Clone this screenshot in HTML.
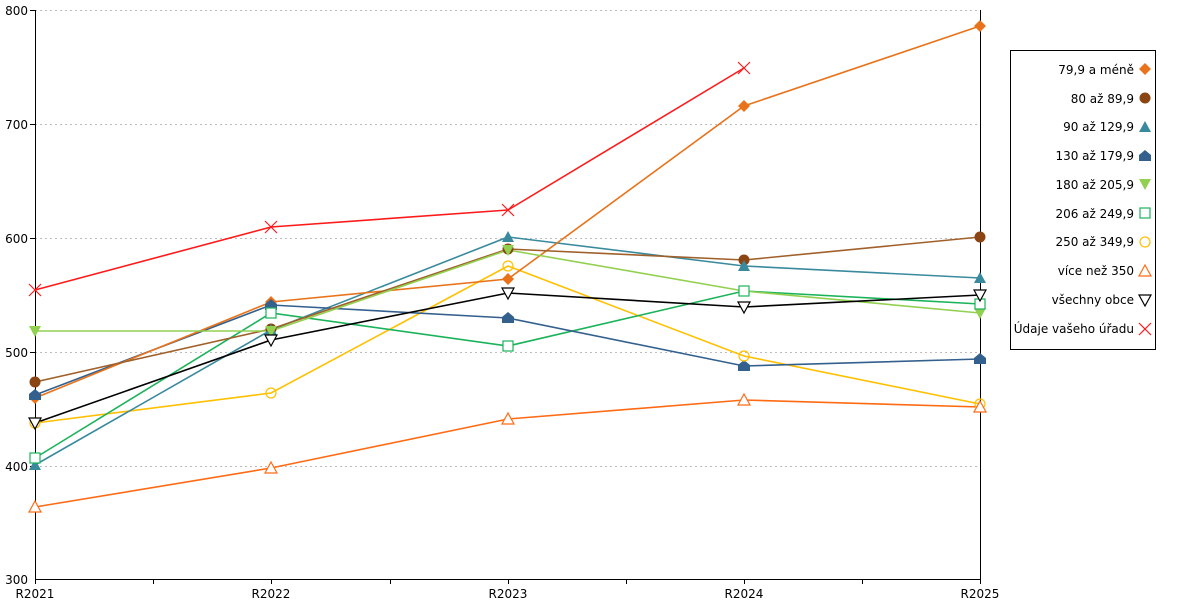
<!DOCTYPE html>
<html><head><meta charset="utf-8"><style>body{margin:0;background:#fff}svg{display:block}text{font-family:"DejaVu Sans","Liberation Sans",sans-serif;font-size:12px;fill:#000}</style></head><body>
<svg width="1200" height="600" viewBox="0 0 1200 600">
<g stroke="#bbb" stroke-dasharray="2,3" stroke-width="1">
<line x1="35" y1="10.5" x2="980" y2="10.5"/><line x1="35" y1="124.5" x2="980" y2="124.5"/><line x1="35" y1="238.5" x2="980" y2="238.5"/><line x1="35" y1="352.5" x2="980" y2="352.5"/><line x1="35" y1="466.5" x2="980" y2="466.5"/>
</g>
<g stroke="#000" stroke-width="1">
<line x1="35.5" y1="10" x2="35.5" y2="584"/><line x1="980.5" y1="10" x2="980.5" y2="584"/><line x1="35" y1="579.5" x2="980" y2="579.5"/>
<line x1="153.5" y1="579" x2="153.5" y2="584"/><line x1="271.5" y1="579" x2="271.5" y2="584"/><line x1="390.5" y1="579" x2="390.5" y2="584"/><line x1="508.5" y1="579" x2="508.5" y2="584"/><line x1="626.5" y1="579" x2="626.5" y2="584"/><line x1="744.5" y1="579" x2="744.5" y2="584"/><line x1="862.5" y1="579" x2="862.5" y2="584"/>
<line x1="30" y1="10.5" x2="35" y2="10.5"/><line x1="30" y1="124.5" x2="35" y2="124.5"/><line x1="30" y1="238.5" x2="35" y2="238.5"/><line x1="30" y1="352.5" x2="35" y2="352.5"/><line x1="30" y1="466.5" x2="35" y2="466.5"/>
</g>
<g text-anchor="end"><text x="28" y="15">800</text><text x="28" y="129">700</text><text x="28" y="243">600</text><text x="28" y="357">500</text><text x="28" y="471">400</text><text x="28" y="584">300</text></g>
<g text-anchor="middle"><text x="35" y="598">R2021</text><text x="271" y="598">R2022</text><text x="508" y="598">R2023</text><text x="744" y="598">R2024</text><text x="980" y="598">R2025</text></g>
<g fill="none" stroke-width="1.6">
<polyline stroke="#ff6a13" points="35,507 271,468 508,419 744,400 980,407"/>
<polyline stroke="#ffc000" points="35,423 271,393 508,266 744,356 980,404"/>
<polyline stroke="#3a8a9e" points="35,465 271,330 508,237 744,266 980,278"/>
<polyline stroke="#1bb35a" points="35,458 271,313 508,346 744,291 980,304"/>
<polyline stroke="#34608e" points="35,395 271,305 508,318 744,366 980,359"/>
<polyline stroke="#e8731a" points="35,398 271,302 508,279 744,106 980,26"/>
<polyline stroke="#a0602a" points="35,382 271,329 508,249 744,260 980,237"/>
<polyline stroke="#92d050" points="35,331 271,331 508,250 744,291 980,313"/>
<polyline stroke="#000" points="35,423 271,340 508,293 744,307 980,295"/>
<polyline stroke="#ff1a1a" points="35,290 271,227 508,210 744,68"/>
</g>
<defs>
<path id="dia" d="M0,-6 L6,0 L0,6 L-6,0Z"/>
<path id="tri" d="M0,-6 L6,5 L-6,5Z"/>
<path id="pent" d="M0,-6 L6,-1 L6,5 L-6,5 L-6,-1Z"/>
<path id="tdn" d="M-6,-5 L6,-5 L0,6Z"/>
<path id="x" d="M-6,-6 L6,6 M6,-6 L-6,6"/>
</defs>
<g fill="#e8731a"><use href="#dia" x="35" y="398"/><use href="#dia" x="271" y="302"/><use href="#dia" x="508" y="279"/><use href="#dia" x="744" y="106"/><use href="#dia" x="980" y="26"/></g>
<g fill="#8b4513"><circle cx="35" cy="382" r="5.5"/><circle cx="271" cy="329" r="5.5"/><circle cx="508" cy="249" r="5.5"/><circle cx="744" cy="260" r="5.5"/><circle cx="980" cy="237" r="5.5"/></g>
<g fill="#3a8a9e"><use href="#tri" x="35" y="465"/><use href="#tri" x="271" y="330"/><use href="#tri" x="508" y="237"/><use href="#tri" x="744" y="266"/><use href="#tri" x="980" y="278"/></g>
<g fill="#34608e"><use href="#pent" x="35" y="395"/><use href="#pent" x="271" y="305"/><use href="#pent" x="508" y="318"/><use href="#pent" x="744" y="366"/><use href="#pent" x="980" y="359"/></g>
<g fill="#92d050"><use href="#tdn" x="35" y="331"/><use href="#tdn" x="271" y="331"/><use href="#tdn" x="508" y="250"/><use href="#tdn" x="980" y="313"/></g>
<g fill="#fff" stroke="#1bb35a" stroke-width="1.2"><rect x="30" y="453" width="10" height="10"/><rect x="266" y="308" width="10" height="10"/><rect x="503" y="341" width="10" height="10"/><rect x="739" y="286" width="10" height="10"/><rect x="975" y="299" width="10" height="10"/></g>
<g fill="none" stroke="#ffc000" stroke-width="1.2"><circle cx="35" cy="423" r="5"/><circle cx="271" cy="393" r="5"/><circle cx="508" cy="266" r="5"/><circle cx="744" cy="356" r="5"/><circle cx="980" cy="404" r="5"/></g>
<g fill="#fff" stroke="#ff6a13" stroke-width="1.2"><use href="#tri" x="35" y="507"/><use href="#tri" x="271" y="468"/><use href="#tri" x="508" y="419"/><use href="#tri" x="744" y="400"/><use href="#tri" x="980" y="407"/></g>
<g fill="#fff" stroke="#000" stroke-width="1.2"><use href="#tdn" x="35" y="423"/><use href="#tdn" x="271" y="340"/><use href="#tdn" x="508" y="293"/><use href="#tdn" x="744" y="307"/><use href="#tdn" x="980" y="295"/></g>
<g stroke="#ff1a1a" stroke-width="1.2"><use href="#x" x="35" y="290"/><use href="#x" x="271" y="227"/><use href="#x" x="508" y="210"/><use href="#x" x="744" y="68"/></g>
<rect x="1010.5" y="50.5" width="145" height="299" fill="#fff" stroke="#000"/>
<g text-anchor="end">
<text x="1134" y="74">79,9 a méně</text><text x="1134" y="103">80 až 89,9</text><text x="1134" y="131">90 až 129,9</text><text x="1134" y="160">130 až 179,9</text><text x="1134" y="189">180 až 205,9</text><text x="1134" y="218">206 až 249,9</text><text x="1134" y="246">250 až 349,9</text><text x="1134" y="275">více než 350</text><text x="1134" y="304">všechny obce</text><text x="1134" y="333">Údaje vašeho úřadu</text>
</g>
<use href="#dia" x="1145" y="69" fill="#e8731a"/>
<circle cx="1145" cy="98" r="5.5" fill="#8b4513"/>
<use href="#tri" x="1145" y="127" fill="#3a8a9e"/>
<use href="#pent" x="1145" y="156" fill="#34608e"/>
<use href="#tdn" x="1145" y="184" fill="#92d050"/>
<rect x="1140" y="208" width="10" height="10" fill="#fff" stroke="#1bb35a" stroke-width="1.2"/>
<circle cx="1145" cy="242" r="5" fill="none" stroke="#ffc000" stroke-width="1.2"/>
<use href="#tri" x="1145" y="271" fill="#fff" stroke="#ff6a13" stroke-width="1.2"/>
<use href="#tdn" x="1145" y="300" fill="#fff" stroke="#000" stroke-width="1.2"/>
<use href="#x" x="1145" y="329" stroke="#ff1a1a" stroke-width="1.2"/>
</svg>
</body></html>
